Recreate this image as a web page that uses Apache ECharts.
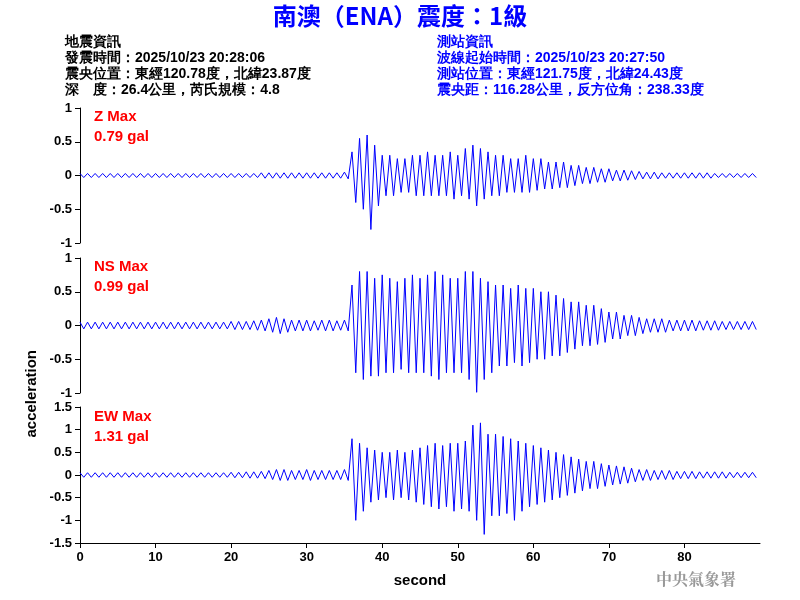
<!DOCTYPE html>
<html><head><meta charset="utf-8">
<script src="https://cdn.jsdelivr.net/npm/echarts@6/dist/echarts.min.js"></script>
<style>html,body{margin:0;padding:0;background:#fff}#c{width:800px;height:600px}</style>
</head><body><div id="c"></div>
<script>
// per-second peak (positive) and trough (negative) amplitudes, gal, seconds 0..89
const zPos=[0.03,0.03,0.03,0.03,0.03,0.03,0.03,0.03,0.03,0.03,0.03,0.03,0.03,0.03,0.03,0.03,0.03,0.03,0.03,0.03,0.03,0.03,0.03,0.03,0.04,0.04,0.04,0.04,0.04,0.04,0.04,0.04,0.04,0.04,0.04,0.05,0.35,0.55,0.6,0.45,0.3,0.3,0.25,0.25,0.3,0.3,0.35,0.3,0.3,0.35,0.3,0.4,0.45,0.4,0.35,0.3,0.3,0.25,0.25,0.3,0.25,0.25,0.2,0.2,0.2,0.15,0.15,0.12,0.12,0.1,0.1,0.08,0.08,0.07,0.06,0.05,0.05,0.04,0.04,0.04,0.04,0.04,0.04,0.04,0.03,0.03,0.03,0.03,0.03,0.03];
const zNeg=[-0.03,-0.03,-0.03,-0.03,-0.03,-0.03,-0.03,-0.03,-0.03,-0.03,-0.03,-0.03,-0.03,-0.03,-0.03,-0.03,-0.03,-0.03,-0.03,-0.03,-0.03,-0.03,-0.03,-0.03,-0.04,-0.04,-0.04,-0.04,-0.04,-0.04,-0.04,-0.04,-0.04,-0.04,-0.04,-0.05,-0.4,-0.5,-0.8,-0.45,-0.3,-0.3,-0.25,-0.25,-0.3,-0.3,-0.3,-0.3,-0.3,-0.35,-0.3,-0.35,-0.45,-0.35,-0.3,-0.3,-0.25,-0.25,-0.25,-0.25,-0.22,-0.2,-0.2,-0.18,-0.18,-0.15,-0.12,-0.12,-0.1,-0.1,-0.08,-0.08,-0.07,-0.06,-0.05,-0.05,-0.05,-0.04,-0.04,-0.04,-0.04,-0.04,-0.04,-0.04,-0.03,-0.03,-0.03,-0.03,-0.03,-0.03];
const nsPos=[0.05,0.05,0.05,0.05,0.05,0.05,0.05,0.05,0.05,0.05,0.05,0.05,0.05,0.05,0.05,0.05,0.05,0.05,0.05,0.05,0.06,0.06,0.06,0.07,0.08,0.1,0.12,0.1,0.08,0.08,0.08,0.07,0.08,0.08,0.07,0.08,0.6,0.8,0.8,0.7,0.75,0.7,0.65,0.7,0.75,0.7,0.75,0.8,0.75,0.7,0.7,0.8,0.8,0.7,0.65,0.6,0.6,0.55,0.6,0.55,0.55,0.5,0.5,0.45,0.4,0.35,0.35,0.3,0.3,0.25,0.2,0.2,0.15,0.15,0.12,0.1,0.1,0.1,0.08,0.08,0.08,0.08,0.07,0.07,0.07,0.06,0.06,0.06,0.06,0.06];
const nsNeg=[-0.05,-0.05,-0.05,-0.05,-0.05,-0.05,-0.05,-0.05,-0.05,-0.05,-0.05,-0.05,-0.05,-0.05,-0.05,-0.05,-0.05,-0.05,-0.05,-0.05,-0.06,-0.06,-0.06,-0.07,-0.08,-0.1,-0.12,-0.1,-0.08,-0.08,-0.08,-0.07,-0.08,-0.08,-0.07,-0.08,-0.7,-0.8,-0.75,-0.75,-0.7,-0.7,-0.65,-0.7,-0.7,-0.7,-0.75,-0.8,-0.7,-0.7,-0.7,-0.8,-0.99,-0.8,-0.7,-0.6,-0.6,-0.55,-0.6,-0.55,-0.5,-0.5,-0.45,-0.45,-0.4,-0.35,-0.3,-0.3,-0.28,-0.25,-0.2,-0.2,-0.15,-0.15,-0.12,-0.1,-0.1,-0.1,-0.08,-0.08,-0.08,-0.08,-0.07,-0.07,-0.07,-0.06,-0.06,-0.06,-0.06,-0.06];
const ewPos=[0.05,0.05,0.05,0.05,0.05,0.05,0.05,0.05,0.05,0.05,0.05,0.05,0.05,0.05,0.05,0.05,0.05,0.05,0.05,0.05,0.06,0.06,0.07,0.07,0.08,0.1,0.12,0.12,0.1,0.1,0.12,0.1,0.1,0.1,0.1,0.12,0.8,0.7,0.6,0.55,0.5,0.5,0.55,0.5,0.55,0.6,0.65,0.7,0.65,0.7,0.7,0.75,1.1,1.15,0.9,0.9,0.85,0.8,0.75,0.7,0.65,0.6,0.55,0.5,0.45,0.4,0.35,0.3,0.3,0.25,0.22,0.2,0.18,0.15,0.12,0.12,0.1,0.1,0.1,0.08,0.08,0.08,0.07,0.07,0.07,0.07,0.06,0.06,0.06,0.06];
const ewNeg=[-0.05,-0.05,-0.05,-0.05,-0.05,-0.05,-0.05,-0.05,-0.05,-0.05,-0.05,-0.05,-0.05,-0.05,-0.05,-0.05,-0.05,-0.05,-0.05,-0.05,-0.06,-0.06,-0.07,-0.07,-0.08,-0.1,-0.12,-0.12,-0.1,-0.1,-0.12,-0.1,-0.1,-0.1,-0.1,-0.12,-1.0,-0.8,-0.6,-0.55,-0.5,-0.55,-0.5,-0.55,-0.6,-0.65,-0.7,-0.75,-0.7,-0.8,-0.75,-0.8,-1.0,-1.31,-0.9,-0.9,-0.85,-1.0,-0.8,-0.7,-0.65,-0.6,-0.55,-0.5,-0.45,-0.4,-0.35,-0.3,-0.3,-0.25,-0.22,-0.2,-0.18,-0.15,-0.12,-0.12,-0.1,-0.1,-0.1,-0.08,-0.08,-0.08,-0.07,-0.07,-0.07,-0.07,-0.06,-0.06,-0.06,-0.06];
const channels=['Z Max','NS Max','EW Max'];
const maxVals=['0.79 gal','0.99 gal','1.31 gal'];

function trace(p,n){const d=[];for(let i=0;i<p.length;i++){d.push([i,p[i]]);d.push([i+0.5,n[i]]);}return d;}
const F='Arial, "Liberation Sans", sans-serif';
const grids=[{left:80,right:40,top:108,height:135},{left:80,right:40,top:258,height:135},{left:80,right:40,top:407,height:136}];
const ranges=[[-1,1],[-1,1],[-1.5,1.5]];
const xAxis=grids.map((g,i)=>({type:'value',gridIndex:i,min:0,max:90,interval:10,show:i===2,
  axisLine:{onZero:false,lineStyle:{color:'#000'}},axisTick:{lineStyle:{color:'#000'}},splitLine:{show:false},
  axisLabel:{color:'#000',fontFamily:F,fontSize:13,fontWeight:'bold',showMaxLabel:false},
  name:i===2?'second':'',nameLocation:'middle',nameGap:30,nameTextStyle:{color:'#000',fontSize:15,fontWeight:'bold',fontFamily:F}}));
const yAxis=grids.map((g,i)=>({type:'value',gridIndex:i,min:ranges[i][0],max:ranges[i][1],interval:0.5,
  axisLine:{show:true,lineStyle:{color:'#000'}},axisTick:{show:true,lineStyle:{color:'#000'}},splitLine:{show:false},
  axisLabel:{color:'#000',fontFamily:F,fontSize:13,fontWeight:'bold'}}));
const data=[trace(zPos,zNeg),trace(nsPos,nsNeg),trace(ewPos,ewNeg)];
const series=data.map((d,i)=>({type:'line',xAxisIndex:i,yAxisIndex:i,data:d,symbol:'none',lineStyle:{color:'#0000ff',width:1},silent:true}));
const txt=(x,y,t,c,s,w)=>({type:'text',left:x,top:y,style:{text:t,fill:c,font:(w||'bold')+' '+s+'px '+F}});
const graphic=[
 {type:'text',left:'center',top:4,style:{text:'南澳（ENA）震度：1級',fill:'#0000ff',font:'bold 24px "Noto Sans CJK TC", '+F}},
 txt(65,35,'地震資訊','#000',14),txt(65,51,'發震時間：2025/10/23 20:28:06','#000',14),
 txt(65,67,'震央位置：東經120.78度，北緯23.87度','#000',14),txt(65,83,'深　度：26.4公里，芮氏規模：4.8','#000',14),
 txt(437,35,'測站資訊','#0000ff',14),txt(437,51,'波線起始時間：2025/10/23 20:27:50','#0000ff',14),
 txt(437,67,'測站位置：東經121.75度，北緯24.43度','#0000ff',14),txt(437,83,'震央距：116.28公里，反方位角：238.33度','#0000ff',14),
 txt(94,109,channels[0],'#ff0000',15),txt(94,129,maxVals[0],'#ff0000',15),
 txt(94,259,channels[1],'#ff0000',15),txt(94,279,maxVals[1],'#ff0000',15),
 txt(94,409,channels[2],'#ff0000',15),txt(94,429,maxVals[2],'#ff0000',15),
 {type:'text',left:24,top:350,rotation:Math.PI/2,style:{text:'acceleration',fill:'#000',font:'bold 15px '+F}},
 {type:'text',left:656,top:571,style:{text:'中央氣象署',fill:'#999',font:'bold 16px "Noto Serif CJK TC","Noto Sans CJK TC", serif'}}
];
const chart=echarts.init(document.getElementById('c'));
chart.setOption({animation:false,backgroundColor:'#fff',grid:grids,xAxis,yAxis,series,graphic});
</script></body></html>
